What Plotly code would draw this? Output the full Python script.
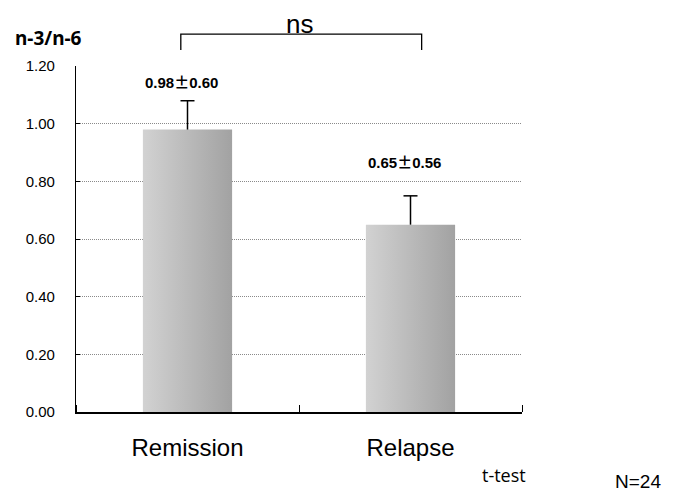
import plotly.graph_objects as go

categories = ["Remission", "Relapse"]
means = [0.98, 0.65]
sds = [0.60, 0.56]
err_drawn = [0.10, 0.10]
y_ticks = [0.0, 0.2, 0.4, 0.6, 0.8, 1.0, 1.2]
bar_labels = [f"{m:.2f}<span style='font-family:Noto Sans CJK JP'>±</span>{s:.2f}"
              for m, s in zip(means, sds)]

half_w = 0.2
fig = go.Figure()
for i, m in enumerate(means):
    fig.add_trace(go.Scatter(
        x=[i - half_w, i - half_w, i + half_w, i + half_w, i - half_w],
        y=[0, m, m, 0, 0],
        mode="lines", line=dict(width=0), fill="toself",
        fillcolor="#bdbdbd",
        fillgradient=dict(type="horizontal",
                          colorscale=[[0, "#d2d2d2"], [1, "#a2a2a2"]]),
        hoverinfo="skip", showlegend=False))

# error whiskers (upper only, cap on top)
ex, ey = [], []
for i, (m, e) in enumerate(zip(means, err_drawn)):
    ex += [i, i, None]
    ey += [m, m + e, None]
fig.add_trace(go.Scatter(x=ex, y=ey, mode="lines",
                         line=dict(color="black", width=1.5),
                         hoverinfo="skip", showlegend=False))
fig.add_trace(go.Scatter(x=list(range(len(means))),
                         y=[m + e for m, e in zip(means, err_drawn)],
                         mode="markers",
                         marker=dict(symbol="line-ew", size=10,
                                     line=dict(color="black", width=1.5)),
                         hoverinfo="skip", showlegend=False))

label_shift = [7, 22]
annotations = []
for i, (m, e, t) in enumerate(zip(means, err_drawn, bar_labels)):
    annotations.append(dict(x=i, y=m + e, xref="x", yref="y", text=f"<b>{t}</b>",
                            showarrow=False, yanchor="bottom", xshift=-6,
                            yshift=label_shift[i],
                            font=dict(family="Liberation Sans", size=15, color="black")))

annotations += [
    dict(x=-0.141, y=1.081, xref="paper", yref="paper", text="<b>n-3/n-6</b>",
         showarrow=False, xanchor="left", yanchor="middle",
         font=dict(family="Noto Sans", size=19, color="black")),
    dict(x=0.5, y=1.1676, xref="x", yref="paper", text="ns", showarrow=False,
         yanchor="top", borderpad=0,
         font=dict(family="Liberation Sans", size=26, color="black")),
    dict(x=1.013, y=-0.182, xref="paper", yref="paper", text="t-test", showarrow=False,
         yanchor="middle", font=dict(family="Open Sans", size=18, color="black")),
    dict(x=1.316, y=-0.238, xref="paper", yref="paper", text="N=24", showarrow=False,
         yanchor="bottom", font=dict(family="Liberation Sans", size=19, color="black")),
]

fig.update_layout(
    width=688, height=487,
    margin=dict(l=68, r=174, t=58, b=83),
    plot_bgcolor="white", paper_bgcolor="white",
    annotations=annotations,
    shapes=[dict(type="path", xref="x", yref="paper",
                 path="M -0.03,1.046 L -0.03,1.092 L 1.05,1.092 L 1.05,1.046",
                 line=dict(color="black", width=1.3))],
    xaxis=dict(range=[-0.5, 1.5], tickvals=list(range(len(categories))),
               ticktext=categories, ticks="", showline=True, linecolor="black",
               linewidth=1.5, showgrid=False, zeroline=False,
               ticklabelstandoff=13,
               tickfont=dict(family="Liberation Sans", size=24, color="black"),
               minor=dict(tick0=-0.5, dtick=1, ticks="inside", ticklen=7,
                          tickcolor="black", tickwidth=1, showgrid=False)),
    yaxis=dict(range=[0, 1.2005], tickvals=y_ticks, tickformat=".2f",
               ticks="inside", ticklen=4, tickcolor="black",
               showline=True, linecolor="black", linewidth=1.3,
               showgrid=True, gridcolor="#8a8a8a", gridwidth=1, griddash="1px,1px",
               zeroline=False, ticklabelstandoff=17,
               tickfont=dict(family="Liberation Sans", size=15, color="black")),
)

fig.write_html("out.html")
